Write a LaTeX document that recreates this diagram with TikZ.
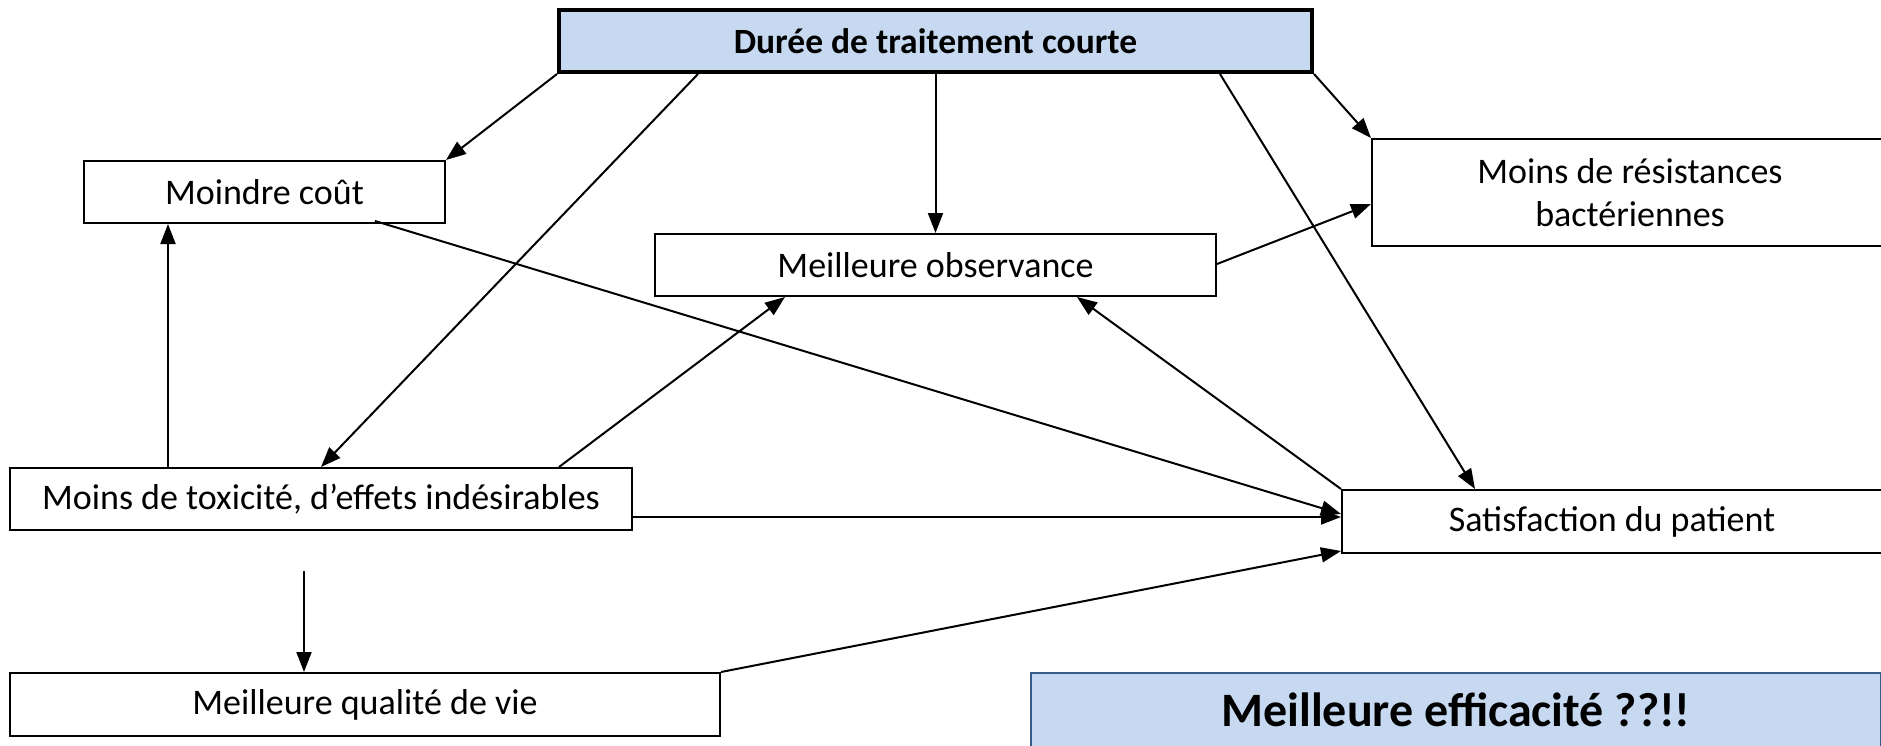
\documentclass[tikz,border=0pt]{standalone}
\usepackage{fontspec}
\setmainfont{Carlito}
\usetikzlibrary{arrows.meta}
\definecolor{lblue}{HTML}{C6D9F1}
\definecolor{bborder}{HTML}{385D8A}
\tikzset{
  box/.style={draw=black, line width=2pt, fill=white, inner sep=0pt, align=center,
    font=\fontsize{36}{43}\selectfont},
  arr/.style={line width=2pt, -{Triangle[length=20pt,width=15pt]}},
}
\begin{document}
\begin{tikzpicture}[x=1pt,y=-1pt]
\useasboundingbox (0,0) rectangle (1881,746);
\clip (0,0) rectangle (1881,746);
\node[box, fill=lblue, line width=4pt, minimum width=753pt, minimum height=62pt, font=\fontsize{35.5}{42}\selectfont\bfseries] (top) at (935.5,41) {Durée de traitement courte};
\node[box, minimum width=361pt, minimum height=62pt] (cout) at (264.5,192) {Moindre coût};
\node[box, minimum width=561pt, minimum height=62pt] (obs) at (935.5,265) {Meilleure observance};
\node[box, minimum width=516pt, minimum height=107pt] (res) at (1630,192.5) {Moins de résistances\\bactériennes};
\node[box, minimum width=622pt, minimum height=62pt] (tox) at (321,499) {Moins de toxicité, d’effets indésirables};
\node[box, minimum width=540pt, minimum height=63pt] (sat) at (1612,521.5) {Satisfaction du patient};
\node[box, minimum width=710pt, minimum height=63pt] (qual) at (365,704.5) {Meilleure qualité de vie};
\node[box, draw=bborder, fill=lblue, minimum width=850pt, minimum height=74pt, font=\fontsize{48}{56}\selectfont\bfseries] (eff) at (1456,710) {Meilleure efficacité ??!!};
\coordinate (qstart) at ([xshift=295pt,yshift=101pt]qual.north west);

\draw[arr] (top.south west) -- (cout.north east);
\draw[arr] ([xshift=141pt]top.south west) -- ([xshift=312pt]tox.north west);
\draw[arr] (top.south) -- (obs.north);
\draw[arr] ([xshift=663pt]top.south west) -- ([xshift=134pt]sat.north west);
\draw[arr] (top.south east) -- (res.north west);
\draw[arr] ([yshift=1pt]obs.east) -- ([yshift=-11.5pt]res.west);
\draw[arr] ([xshift=292pt,yshift=3pt]cout.south west) -- ([yshift=7.5pt]sat.west);
\draw[arr] ([xshift=159pt]tox.north west) -- ([xshift=85pt]cout.south west);
\draw[arr] ([xshift=550pt]tox.north west) -- ([xshift=131pt]obs.south west);
\draw[arr] (sat.north west) -- ([xshift=423pt]obs.south west);
\draw[arr] ([yshift=-18pt]tox.east) -- ([yshift=4.5pt]sat.west);
\draw[arr] (qstart) -- ([xshift=295pt]qual.north west);
\draw[arr] (qual.north east) -- ([yshift=-29.5pt]sat.west);
\end{tikzpicture}
\end{document}
